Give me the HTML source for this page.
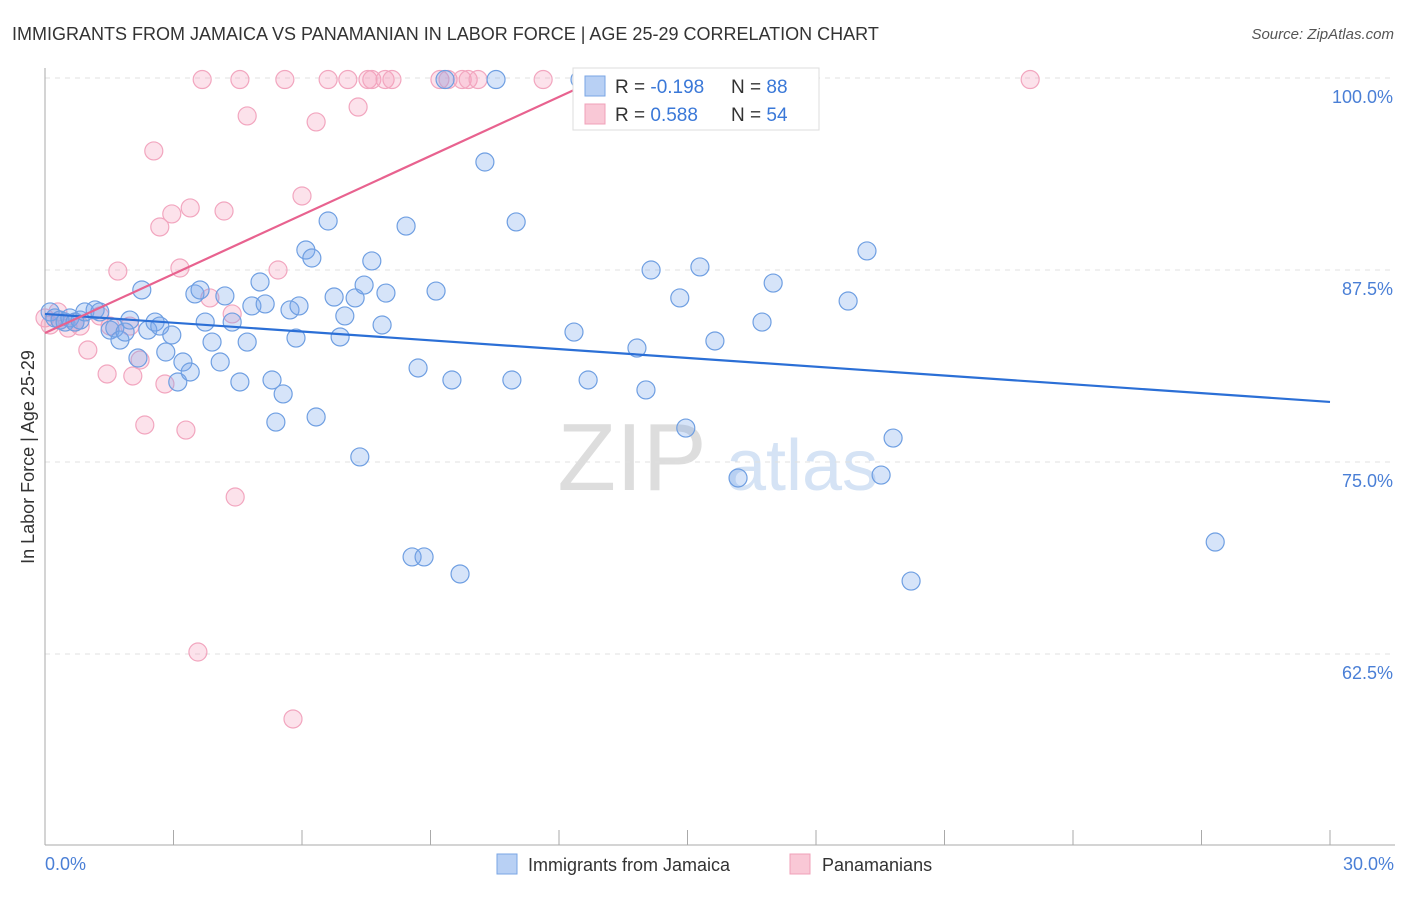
<!DOCTYPE html>
<html><head><meta charset="utf-8"><style>
body{margin:0;background:#fff;font-family:"Liberation Sans",sans-serif;}
svg text{font-family:"Liberation Sans",sans-serif;}
</style></head><body>
<svg id="c" width="1406" height="892" xmlns="http://www.w3.org/2000/svg">
<text x="12" y="40" font-size="18" fill="#333">IMMIGRANTS FROM JAMAICA VS PANAMANIAN IN LABOR FORCE | AGE 25-29 CORRELATION CHART</text>
<text x="1394" y="39" font-size="15" fill="#555" text-anchor="end" font-style="italic">Source: ZipAtlas.com</text>
<text x="632" y="490" font-size="96" fill="#ddd" font-family="Liberation Serif" text-anchor="middle">ZIP</text>
<text x="802" y="490" font-size="72" fill="#d5e3f5" text-anchor="middle">atlas</text>
<g id="grid"></g>
<g id="axes"></g>
<g id="pts"></g>
<g id="lines"></g>
<text transform="translate(34,457) rotate(-90)" font-size="18" fill="#333" text-anchor="middle">In Labor Force | Age 25-29</text>
<text x="45" y="870" font-size="18" fill="#4a7fd6">0.0%</text>
<text x="1394" y="870" font-size="18" fill="#4a7fd6" text-anchor="end">30.0%</text>
<g>
<rect x="573" y="68" width="246" height="62" fill="#fff" stroke="#ddd"/>
<rect x="585" y="76" width="20" height="20" fill="#b8d0f4" stroke="#7aa6e4"/>
<rect x="585" y="104" width="20" height="20" fill="#f9c8d6" stroke="#f0a0b8"/>
<text x="615" y="93" font-size="19" fill="#333">R = <tspan fill="#3a78d8">-0.198</tspan></text>
<text x="731" y="93" font-size="19" fill="#333">N = <tspan fill="#3a78d8">88</tspan></text>
<text x="615" y="121" font-size="19" fill="#333">R = <tspan fill="#3a78d8"> 0.588</tspan></text>
<text x="731" y="121" font-size="19" fill="#333">N = <tspan fill="#3a78d8">54</tspan></text>
</g>
<g><rect x="497" y="854" width="20" height="20" fill="#b8d0f4" stroke="#7aa6e4"/><text x="528" y="871" font-size="18" fill="#333">Immigrants from Jamaica</text></g>
<g><rect x="790" y="854" width="20" height="20" fill="#f9c8d6" stroke="#f0a0b8"/><text x="822" y="871" font-size="18" fill="#333">Panamanians</text></g>
</svg>
<script>
const yTicks=[100,87.5,75,62.5];
const yTickLabels=["100.0%","87.5%","75.0%","62.5%"];
const blueX=[0.12,0.23,0.35,0.47,0.58,0.70,0.82,0.93,1.17,1.28,1.52,1.63,1.75,1.87,1.98,2.17,2.26,2.40,2.57,2.68,2.82,2.96,3.10,3.22,3.39,3.50,3.62,3.74,3.90,4.09,4.20,4.37,4.55,4.72,4.83,5.02,5.14,5.30,5.39,5.56,5.72,5.86,5.93,6.33,6.61,6.09,6.23,6.75,6.89,7.00,7.24,7.35,7.45,7.63,7.87,7.96,8.43,8.57,8.71,8.85,9.13,9.50,9.69,10.27,10.53,10.90,11.00,12.35,12.68,13.82,14.03,14.15,14.82,14.96,15.29,15.64,16.18,16.74,17.00,18.75,19.19,19.52,19.80,20.22,27.32,9.34,12.49];
const blueY=[84.77,84.38,84.24,84.11,84.38,84.11,84.24,84.77,84.90,84.77,83.59,83.72,82.94,83.46,84.24,81.77,86.20,83.59,84.11,83.85,82.16,83.27,80.21,81.51,80.86,85.94,86.20,84.11,82.81,81.51,85.81,84.11,80.21,82.81,85.16,86.72,85.29,80.34,77.60,79.43,84.90,83.07,85.16,77.93,90.69,88.80,88.28,85.74,83.14,84.51,85.68,75.33,86.52,88.09,83.92,86.00,90.36,68.82,81.12,68.82,86.13,80.34,67.71,94.53,99.9,80.34,90.63,83.46,80.34,82.42,79.69,87.50,85.68,77.21,87.70,82.88,73.96,84.11,86.65,85.48,88.74,74.15,76.56,67.25,69.79,99.9,99.9];
const pinkX=[0,0.12,0.35,0.54,0.82,1.00,1.45,1.70,1.98,2.05,2.22,2.33,2.54,2.68,2.80,2.96,3.15,3.29,3.39,3.57,3.67,3.85,4.18,4.37,4.44,4.55,4.72,5.44,5.60,5.79,6.00,6.33,6.61,7.07,7.31,7.54,7.63,7.94,8.10,9.22,9.41,9.74,9.88,10.11,11.63,13.61,16.93,23.00,1.52,1.28,0.70,0.30];
const pinkY=[84.38,83.92,84.24,83.72,83.85,82.29,80.73,87.43,83.85,80.60,81.64,77.41,95.25,90.30,80.08,91.15,87.63,77.08,91.54,62.63,99.9,85.68,91.34,84.64,72.72,99.9,97.53,87.50,99.9,58.27,92.32,97.14,99.9,99.9,98.11,99.9,99.9,99.9,99.9,99.9,99.9,99.9,99.9,99.9,99.9,99.9,99.9,99.9,83.85,84.51,84.11,84.77];
const blueTrend=[84.64,-0.191]; // intercept, slope
const pinkTrend=[83.40,1.281];
const pinkTrendEnd=12.7;
const NS="http://www.w3.org/2000/svg";
const X0=45,X1=1330,XMAX=30;
function sx(v){return X0+(v/XMAX)*(X1-X0);}
function sy(v){return 78+(100-v)/12.5*192;}
function mk(t,a,parent){const e=document.createElementNS(NS,t);for(const k in a)e.setAttribute(k,a[k]);document.getElementById(parent).appendChild(e);return e;}
yTicks.forEach((t,i)=>{
  const l=mk('line',{x1:X0,x2:1395,y1:sy(t),y2:sy(t),stroke:'#e0e0e0','stroke-dasharray':'5,5'},'grid');
  
  
  const tx=mk('text',{x:1393,y:sy(t)+25,'font-size':18,fill:'#4a7fd6','text-anchor':'end'},'grid');
  tx.textContent=yTickLabels[i];
  
  
});
const ax=mk('line',{x1:X0,x2:1395,y1:845,y2:845,stroke:'#aaa'},'axes');


const ay=mk('line',{x1:X0,x2:X0,y1:68,y2:845,stroke:'#aaa'},'axes');


for(let i=0;i<=10;i++){
  const t=mk('line',{x1:sx(i*3),x2:sx(i*3),y1:830,y2:845,stroke:'#aaa'},'axes');
  
  
}
pinkX.forEach((x,i)=>{
  const c=mk('circle',{cx:sx(x),cy:sy(pinkY[i]),r:9,fill:'rgba(244,160,188,0.3)',stroke:'#f2a6bf','stroke-width':1.2},'pts');
  
  
});
blueX.forEach((x,i)=>{
  const c=mk('circle',{cx:sx(x),cy:sy(blueY[i]),r:9,fill:'rgba(120,165,235,0.3)',stroke:'#6f9fe2','stroke-width':1.2},'pts');
  
  
});
const bl=mk('line',{x1:sx(0),y1:sy(blueTrend[0]),x2:sx(30),y2:sy(blueTrend[0]+blueTrend[1]*30),stroke:'#2b6fd6','stroke-width':2.2},'lines');


const pl=mk('line',{x1:sx(0),y1:sy(pinkTrend[0]),x2:sx(pinkTrendEnd),y2:sy(pinkTrend[0]+pinkTrend[1]*pinkTrendEnd),stroke:'#e8628f','stroke-width':2.2},'lines');


</script>
</body></html>
